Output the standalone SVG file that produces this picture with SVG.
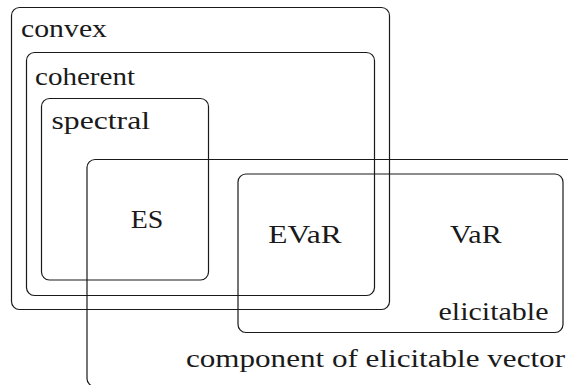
<svg xmlns="http://www.w3.org/2000/svg" width="568" height="385" viewBox="0 0 568 385">
<style>
.box{fill:none;stroke:#1a1a1a;stroke-width:1.2}
text{font-family:"Liberation Serif",serif;font-size:26px;fill:#1a1a1a}
</style>
<rect x="0" y="0" width="568" height="385" fill="#fff"/>
<g id="convex">
<rect class="box" x="11.5" y="7.5" width="378" height="302" rx="8"/>
<text x="21" y="36.5" textLength="86" lengthAdjust="spacingAndGlyphs" style="font-family:'Liberation Serif',serif">convex</text>
</g>
<g id="coherent">
<rect class="box" x="26.5" y="52.5" width="348" height="243" rx="8"/>
<text x="35" y="85" textLength="100" lengthAdjust="spacingAndGlyphs" style="font-family:'Liberation Serif',serif">coherent</text>
</g>
<g id="spectral">
<rect class="box" x="41.5" y="98.5" width="167" height="181.5" rx="8"/>
<text x="51.5" y="129" textLength="98.5" lengthAdjust="spacingAndGlyphs" style="font-family:'Liberation Serif',serif">spectral</text>
</g>
<g id="component">
<rect class="box" x="87" y="159.5" width="500" height="227" rx="8"/>
<text x="186" y="367" textLength="379" lengthAdjust="spacingAndGlyphs" style="font-family:'Liberation Serif',serif">component of elicitable vector</text>
</g>
<g id="elicitable">
<rect class="box" x="238" y="174" width="325" height="158.5" rx="8"/>
<text x="438.5" y="320" textLength="110" lengthAdjust="spacingAndGlyphs" style="font-family:'Liberation Serif',serif">elicitable</text>
</g>
<g id="ES">
<text x="130.7" y="227.7" textLength="32.6" lengthAdjust="spacingAndGlyphs" style="font-family:'Liberation Serif',serif">ES</text>
</g>
<g id="EVaR">
<text x="268.3" y="243.3" textLength="73.4" lengthAdjust="spacingAndGlyphs" style="font-family:'Liberation Serif',serif">EVaR</text>
</g>
<g id="VaR">
<text x="450" y="243.3" textLength="51.7" lengthAdjust="spacingAndGlyphs" style="font-family:'Liberation Serif',serif">VaR</text>
</g>
<g id="connectors"></g>
</svg>
